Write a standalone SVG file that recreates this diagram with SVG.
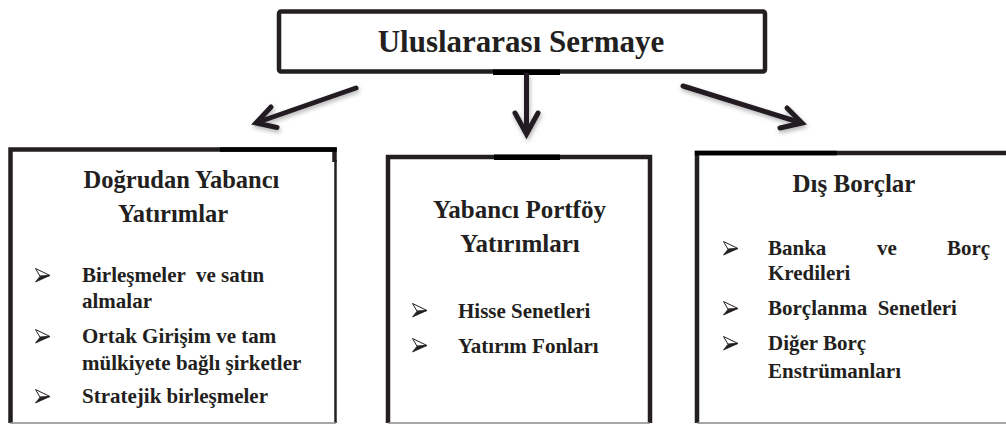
<svg xmlns="http://www.w3.org/2000/svg" width="1006" height="425" viewBox="0 0 1006 425">
<style>
.box{fill:none;stroke:#231f20;stroke-width:4.5;stroke-linejoin:miter}
.bot{stroke:#8a8a8a;stroke-width:1.5}
.bar{fill:#000}
.head{font-family:'Liberation Serif', serif;font-weight:bold;fill:#231f20;text-anchor:middle}
.item{font-family:'Liberation Serif', serif;font-weight:bold;font-size:21px;fill:#231f20;white-space:pre}
.arr{fill:none;stroke:#231f20;stroke-width:5;stroke-linecap:round;stroke-linejoin:miter}
</style>
<defs>
<filter id="sh" x="-20%" y="-20%" width="150%" height="160%">
<feDropShadow dx="1" dy="2.5" stdDeviation="2" flood-color="#000" flood-opacity="0.3"/>
</filter>
<g id="bullet">
<path d="M0.5,0.5 L15,7.5 L5,8.2 Z" fill="#fff" stroke="#231f20" stroke-width="1" stroke-linejoin="round"/>
<path d="M5,8.2 L15,7.5 L0.5,14 Z" fill="#231f20" stroke="#231f20" stroke-width="0.8" stroke-linejoin="round"/>
</g>
</defs>
<rect width="1006" height="425" fill="#fff"/>

<g id="top">
<rect class="box" x="279" y="11.5" width="486" height="60" rx="2"/>
<rect class="bar" x="493" y="69.5" width="67" height="5.5"/>
<text class="head" x="521" y="52" font-size="31">Uluslararası Sermaye</text>
</g>

<g id="connectors" filter="url(#sh)">
<line class="arr" x1="356" y1="88" x2="257" y2="122.5"/>
<polyline class="arr" points="271,107 256,123 277,127.5"/>
<line class="arr" x1="526.5" y1="75" x2="526.5" y2="132"/>
<polyline class="arr" points="515,113 526.5,134 538,113"/>
<line class="arr" x1="683" y1="86" x2="800" y2="122.5"/>
<polyline class="arr" points="787,108 802,123 780,128"/>
</g>

<g id="left">
<path class="box" d="M10.5,423 V149.5 H334.5 V162"/>
<line x1="335.5" y1="160" x2="335.5" y2="423" stroke="#231f20" stroke-width="2.5"/>
<rect class="bar" x="220" y="147.3" width="116.7" height="4.5"/>
<line class="bot" x1="10" y1="423" x2="336" y2="423"/>
<text class="head" x="181.5" y="188" font-size="24.5">Doğrudan Yabancı</text>
<text class="head" x="173" y="222" font-size="24.5">Yatırımlar</text>
<use href="#bullet" x="35" y="268"/>
<use href="#bullet" x="35" y="329"/>
<use href="#bullet" x="35" y="389"/>
<text class="item" x="82" y="282">Birleşmeler  ve satın</text>
<text class="item" x="82" y="308">almalar</text>
<text class="item" x="82" y="343">Ortak Girişim ve tam</text>
<text class="item" x="82" y="370">mülkiyete bağlı şirketler</text>
<text class="item" x="82" y="403">Stratejik birleşmeler</text>
</g>

<g id="middle">
<path class="box" d="M388,423 V157 H650 V423"/>
<rect class="bar" x="494" y="154.5" width="66" height="5.5"/>
<line class="bot" x1="388" y1="423" x2="650" y2="423"/>
<text class="head" x="519.5" y="218" font-size="25">Yabancı Portföy</text>
<text class="head" x="520" y="252" font-size="25">Yatırımları</text>
<use href="#bullet" x="412" y="303"/>
<use href="#bullet" x="412" y="338"/>
<text class="item" x="458" y="318">Hisse Senetleri</text>
<text class="item" x="458" y="353">Yatırım Fonları</text>
</g>

<g id="right">
<path class="box" d="M697,423 V153 H1010"/>
<rect class="bar" x="694.8" y="150.8" width="142" height="4.5"/>
<line class="bot" x1="697" y1="423" x2="1006" y2="423"/>
<text class="head" x="854" y="192" font-size="25">Dış Borçlar</text>
<use href="#bullet" x="723" y="241"/>
<use href="#bullet" x="723" y="301"/>
<use href="#bullet" x="723" y="336"/>
<text class="item" y="255"><tspan x="768">Banka</tspan><tspan x="877">ve</tspan><tspan x="947">Borç</tspan></text>
<text class="item" x="768" y="280">Kredileri</text>
<text class="item" x="768" y="315">Borçlanma  Senetleri</text>
<text class="item" x="768" y="350">Diğer Borç</text>
<text class="item" x="768" y="378">Enstrümanları</text>
</g>
</svg>
